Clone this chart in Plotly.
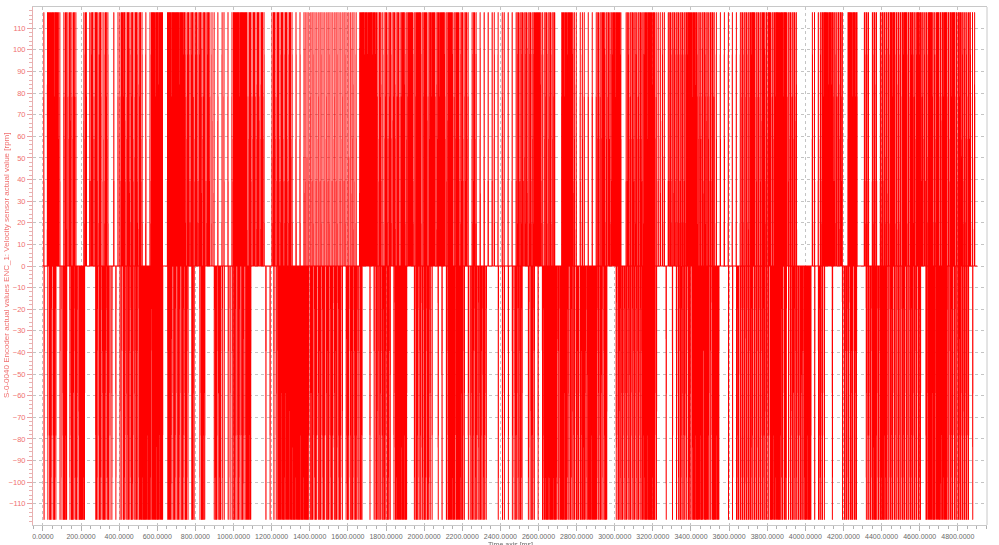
import plotly.graph_objects as go

# ---- data ----
# Each character = one 10.5 ms window (2 px column pair) from t = 0 to 4900 ms.
# '0' = no spike, '1' = one spike, '2' = two spikes in that window.
POS_PATTERN = (
    "1022222210" "1212121000" "1201212121" "1210010112" "2121212121"
    "0101222222" "0022222222" "2121212121" "2121110101" "1010122222"
    "2212121212" "1000121212" "1212101010" "1111111111" "1111111111"
    "1111111022" "2222222121" "1212121212" "2122212221" "2212221222"
    "2122212212" "1210121010" "1010110101" "1010101212" "1212122221"
    "1212120002" "2222211011" "1010101212" "2121222220" "0121212121"
    "2222221111" "1012121212" "1222222121" "2121211010" "1010101012"
    "1212221212" "2122122222" "2212121000" "0000110112" "2222212121"
    "0022222000" "1210121012" "1212221212" "2212212221" "2122212212"
    "2212221221" "2121110"
)
NEG_PATTERN = (
    "1012121011" "2201212122" "2000002121" "2121101011" "2121212122"
    "2222222222" "0022121212" "1210210012" "2000012121" "1011121212"
    "1222000000" "0101011222" "2222222222" "2221212121" "2121212121"
    "0121212121" "0001012121" "2121012222" "2200012121" "2121100101"
    "0122222222" "1011212121" "2100000101" "1010112121" "0011210101"
    "2222222122" "2212121212" "2122222121" "2200001212" "1212121212"
    "2222221000" "0100101121" "2121222222" "2221222200" "0010101212"
    "1212121212" "1212222221" "2111212121" "2222010121" "1000100001"
    "1212121000" "0121222122" "2212121212" "1212121210" "0222222222"
    "2212121212" "1210100"
)
WINDOW_MS = 10.5
SPIKE_RPM = 117.19
DURATION_MS = 4900
X_TICKS = list(range(0, 4801, 200))
Y_TICKS = list(range(-110, 111, 10))

# ---- build 1 ms sampled signal from the patterns ----
signal = [0.0] * (DURATION_MS + 1)

def place(pattern, value):
    for i, ch in enumerate(pattern):
        t0 = i * WINDOW_MS
        if ch == "1":
            offs = [5.0]
        elif ch == "2":
            offs = [2.5, 7.75]
        else:
            offs = []
        for o in offs:
            t = int(round(t0 + o))
            if 0 < t < DURATION_MS:
                if signal[t] == 0.0:
                    signal[t] = value
                elif t + 1 < DURATION_MS and signal[t + 1] == 0.0:
                    signal[t + 1] = value

place(POS_PATTERN, SPIKE_RPM)
place(NEG_PATTERN, -SPIKE_RPM)
times = list(range(DURATION_MS + 1))

fig = go.Figure()
fig.add_trace(go.Scattergl(
    x=times, y=signal, mode="lines",
    line=dict(color="#ff0000", width=1),
    hoverinfo="skip", showlegend=False,
))

font_family = "Liberation Sans, Arial, sans-serif"
PLOT_W = 999 - 33 - 12
PLOT_H = 545 - 7 - 20
fig.update_layout(
    width=999, height=545,
    margin=dict(l=33, r=12, t=7, b=20),
    paper_bgcolor="white", plot_bgcolor="white",
    font=dict(family=font_family, size=7),
    xaxis=dict(
        range=[-52, 4953], tickvals=X_TICKS, tickformat=".4f", tickangle=0,
        showgrid=True, gridcolor="#c4c4c4", griddash="dot", gridwidth=1,
        zeroline=False, showline=True, linecolor="#c8c8c8", mirror=True,
        ticks="outside", ticklen=5, tickcolor="#b0b0b0",
        minor=dict(dtick=50, tick0=0, ticks="outside", ticklen=3,
                   tickcolor="#b0b0b0", showgrid=False),
        tickfont=dict(size=7, color="#6a6a6a"),
        automargin=False,
    ),
    yaxis=dict(
        range=[-119.8, 119.8], tickvals=Y_TICKS,
        showgrid=True, gridcolor="#c4c4c4", griddash="dot", gridwidth=1,
        zeroline=False, showline=True, linecolor="#e8b0b0", mirror=False,
        ticks="outside", ticklen=5, tickcolor="#eaa0a0",
        minor=dict(dtick=2, tick0=0, ticks="outside", ticklen=3,
                   tickcolor="#eab0b0", showgrid=False),
        tickfont=dict(size=7.5, color="#f07070"),
        automargin=False,
    ),
    shapes=[
        dict(type="line", xref="paper", yref="paper", x0=1, x1=1, y0=0, y1=1,
             line=dict(color="#c8c8c8", width=1)),
    ],
    annotations=[
        dict(text="S-0-0040 Encoder actual values ENC_1: Velocity sensor actual value [rpm]",
             xref="paper", yref="paper", x=(6 - 33) / PLOT_W, y=0.5, xanchor="center",
             yanchor="middle", textangle=-90, showarrow=False,
             font=dict(size=8, color="#f07070")),
        dict(text="Time axis [ms]", xref="paper", yref="paper",
             x=(510 - 33) / PLOT_W, y=-(545 - 525) / PLOT_H, xanchor="center",
             yanchor="middle", showarrow=False, font=dict(size=7, color="#6a6a6a")),
    ],
)

fig.write_html(
    "out.html",
    config={"displayModeBar": False},
    post_script="document.body.style.margin='0';document.body.style.overflow='hidden';",
)
